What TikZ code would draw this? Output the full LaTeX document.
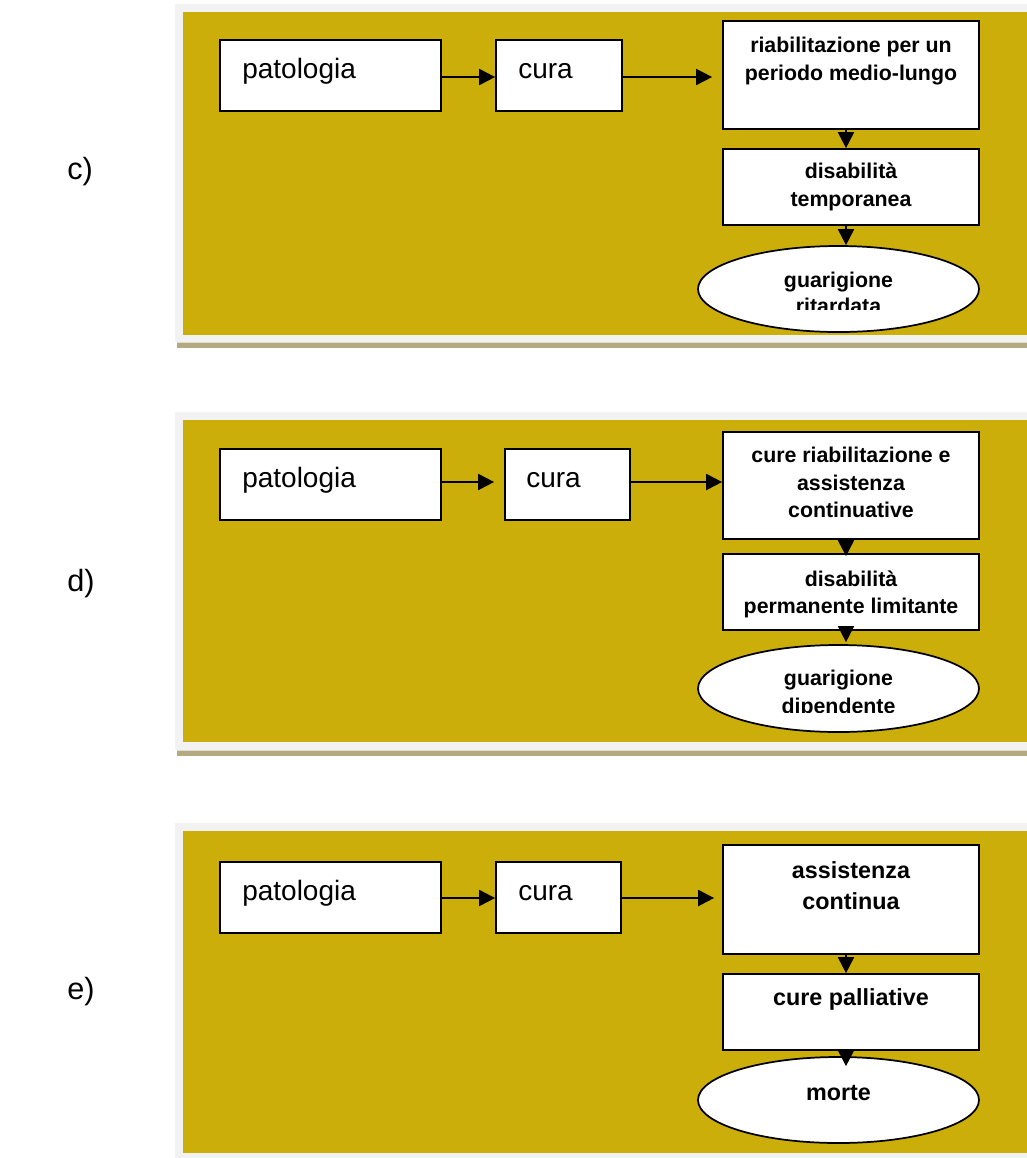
\documentclass[tikz,border=0pt]{standalone}
\usepackage{fontspec}
\setmainfont{Liberation Sans}
\usetikzlibrary{arrows.meta,shapes.geometric,fit}
\definecolor{gold}{RGB}{204,174,11}
\definecolor{framegray}{RGB}{242,242,242}
\definecolor{shadowtan}{RGB}{179,170,130}
\definecolor{shadowlight}{RGB}{224,220,200}

\begin{document}
\begin{tikzpicture}[x=0.75pt,y=-0.75pt,
  box/.style={draw=black, line width=1.3pt, fill=white, inner sep=0pt},
  oval/.style={ellipse, draw=black, line width=1.3pt, fill=white, inner sep=0pt,
    minimum width=210.75pt, minimum height=64.5pt},
  flow/.style={line width=1.5pt, -{Triangle[length=12pt,width=12pt]}},
  plain/.style={font=\fontsize{21}{25}\selectfont, inner sep=0pt, anchor=base west},
  bold/.style={font=\bfseries\fontsize{16}{20}\selectfont, inner sep=0pt, anchor=base},
  bigbold/.style={font=\bfseries\fontsize{17.5}{21}\selectfont, inner sep=0pt, anchor=base},
  tag/.style={font=\fontsize{23}{27}\selectfont, inner sep=0pt, anchor=base west},
]
\useasboundingbox (0,0) rectangle (1027,1158);
\fill[white] (0,0) rectangle (1027,1158);

% ---------- panel backgrounds ----------
% c)
\fill[framegray] (175,4) rectangle (1027,342);
\fill[gold] (183,12) rectangle (1027,335);
\fill[shadowlight] (177,341.5) rectangle (1027,343);
\fill[shadowtan] (177,343) rectangle (1027,348);
% d)
\fill[framegray] (175,412) rectangle (1027,750);
\fill[gold] (183,420) rectangle (1027,742);
\fill[shadowlight] (177,749.5) rectangle (1027,751);
\fill[shadowtan] (177,751) rectangle (1027,756);
% e)
\fill[framegray] (175,823) rectangle (1027,1158);
\fill[gold] (183,831) rectangle (1027,1153);

% ---------- panel tags ----------
\node[tag] (tagc) at (67,179) {c)};
\node[tag] (tagd) at (67,591) {d)};
\node[tag] (tage) at (67,999) {e)};

% shared guides
\coordinate (axis) at (846,0);
\coordinate (crow) at (0,77);
\coordinate (drow) at (0,482);
\coordinate (erow) at (0,898);

% ---------- panel c ----------
\node[box, fit={(220,40) (441,111)}] (cpat) {};
\node[box, fit={(496,40) (622,111)}] (ccura) {};
\node[box, fit={(723,21) (979,129)}] (cr1) {};
\node[box, fit={(723,149) (979,225)}] (cr2) {};
\node[oval] (cell) at (838.5,289) {};

\node[plain] (cpatt) at (242,78) {patologia};
\node[plain] (ccurat) at (518,78) {cura};
\node[bold] (cr1a) at (851,52) {riabilitazione per un};
\node[bold] (cr1b) at (851,80) {periodo medio-lungo};
\node[bold] (cr2a) at (851,178) {disabilità};
\node[bold] (cr2b) at (851,206) {temporanea};
\begin{scope}
  \clip (690,246) rectangle (990,309.5);
  \node[bold] (cella) at (838.5,287) {guarigione};
  \node[bold] (cellb) at (838.5,313) {ritardata};
\end{scope}

\draw[flow] (cpat.east |- crow) -- (ccura.west |- crow);
\draw[flow, shorten >=7.5pt] (ccura.east |- crow) -- (cr1.west |- crow);
\draw[flow] (cr1.south -| axis) -- (cr2.north -| axis);
\draw[flow] (cr2.south -| axis) -- (cell.north -| axis);

% ---------- panel d ----------
\node[box, fit={(220,449) (441,520)}] (dpat) {};
\node[box, fit={(505,449) (630,520)}] (dcura) {};
\node[box, fit={(723,432) (979,539)}] (dr1) {};
\node[box, fit={(723,554) (979,630)}] (dr2) {};
\node[oval, minimum height=65.25pt] (dell) at (838.5,688.5) {};

\node[plain] (dpatt) at (242,487) {patologia};
\node[plain] (dcurat) at (526,487) {cura};
\node[bold] (dr1a) at (851,462) {cure riabilitazione e};
\node[bold] (dr1b) at (851,490) {assistenza};
\node[bold] (dr1c) at (851,517) {continuative};
\node[bold] (dr2a) at (851,586) {disabilità};
\node[bold] (dr2b) at (851,613) {permanente limitante};
\begin{scope}
  \clip (690,645) rectangle (990,712.5);
  \node[bold] (della) at (838.5,685) {guarigione};
  \node[bold] (dellb) at (838.5,713) {dipendente};
\end{scope}

\draw[flow, shorten >=7.5pt] (dpat.east |- drow) -- (dcura.west |- drow);
\draw[flow] (dcura.east |- drow) -- (dr1.west |- drow);
\draw[flow, shorten >=-2.25pt] (dr1.south -| axis) -- (dr2.north -| axis);
\draw[flow, shorten >=1.5pt] (dr2.south -| axis) -- (dell.north -| axis);

% ---------- panel e ----------
\node[box, fit={(220,862) (441,933)}] (epat) {};
\node[box, fit={(496,862) (621,933)}] (ecura) {};
\node[box, fit={(723,845) (979,954)}] (er1) {};
\node[box, fit={(723,974) (979,1050)}] (er2) {};
\node[oval] (eell) at (838.5,1100) {};

\node[plain] (epatt) at (242,900) {patologia};
\node[plain] (ecurat) at (518,900) {cura};
\node[bigbold] (er1a) at (851,878) {assistenza};
\node[bigbold] (er1b) at (851,909) {continua};
\node[bigbold] (er2a) at (851,1005) {cure palliative};
\node[bigbold] (eella) at (838.5,1100) {morte};

\draw[flow] (epat.east |- erow) -- (ecura.west |- erow);
\draw[flow, shorten >=6pt] (ecura.east |- erow) -- (er1.west |- erow);
\draw[flow] (er1.south -| axis) -- (er2.north -| axis);
\draw[flow, shorten >=-7.5pt] (er2.south -| axis) -- (eell.north -| axis);
\end{tikzpicture}
\end{document}
